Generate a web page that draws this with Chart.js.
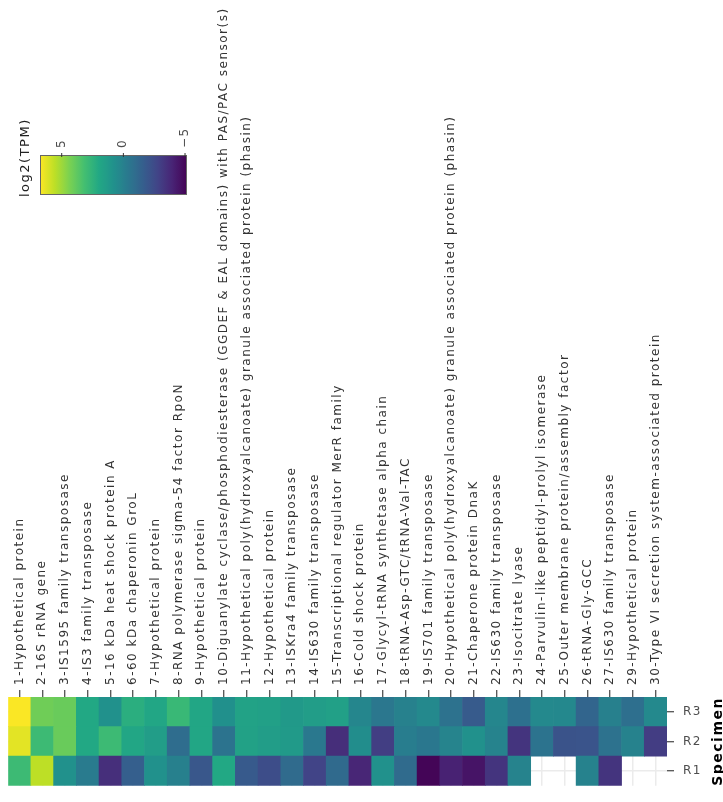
<!DOCTYPE html>
<html><head><meta charset="utf-8">
<script src="https://cdn.jsdelivr.net/npm/chart.js@4/dist/chart.umd.min.js"></script>
<style>html,body{margin:0;padding:0;background:#fff;}canvas{display:block;}</style>
</head><body>
<canvas id="c" width="723" height="802"></canvas>
<script>
const genes = [
  "1-Hypothetical protein",
  "2-16S rRNA gene",
  "3-IS1595 family transposase",
  "4-IS3 family transposase",
  "5-16 kDa heat shock protein A",
  "6-60 kDa chaperonin GroL",
  "7-Hypothetical protein",
  "8-RNA polymerase sigma-54 factor RpoN",
  "9-Hypothetical protein",
  "10-Diguanylate cyclase/phosphodiesterase (GGDEF & EAL domains) with PAS/PAC sensor(s)",
  "11-Hypothetical poly(hydroxyalcanoate) granule associated protein (phasin)",
  "12-Hypothetical protein",
  "13-ISKra4 family transposase",
  "14-IS630 family transposase",
  "15-Transcriptional regulator MerR family",
  "16-Cold shock protein",
  "17-Glycyl-tRNA synthetase alpha chain",
  "18-tRNA-Asp-GTC/tRNA-Val-TAC",
  "19-IS701 family transposase",
  "20-Hypothetical poly(hydroxyalcanoate) granule associated protein (phasin)",
  "21-Chaperone protein DnaK",
  "22-IS630 family transposase",
  "23-Isocitrate lyase",
  "24-Parvulin-like peptidyl-prolyl isomerase",
  "25-Outer membrane protein/assembly factor",
  "26-tRNA-Gly-GCC",
  "27-IS630 family transposase",
  "29-Hypothetical protein",
  "30-Type VI secretion system-associated protein"
];
const specimens = ["R1", "R2", "R3"];
const r3 = [6.7, 4.14, 4.0, 2.0, 0.8, 2.3, 1.87, 2.8, 1.9, 0.74, 1.7, 1.57, 1.2, 1.4, 1.57, 0.26, -0.45, 0.03, 0.44, -0.69, -1.76, 0.26, -0.75, 0.44, 0.38, -1.29, -0.03, -0.81, 0.4];
const r2 = [6.28, 2.95, 4.0, 2.0, 2.95, 1.87, 1.4, -0.93, 1.87, -0.63, 1.63, 1.4, 1.25, -0.39, -3.61, 0.62, -3.01, -0.15, -0.42, 0.2, 0.8, 0.14, -3.37, -0.63, -2.12, -2.06, -0.69, 0.08, -3.04];
const r1 = [2.95, 5.57, 0.8, -0.27, -3.55, -1.58, 0.8, -0.03, -1.94, 1.99, -1.82, -2.36, -1.0, -2.78, -1.05, -3.91, 0.8, -0.99, -5.04, -4.03, -4.5, -3.37, 0.14, null, null, 0.08, -3.37, null, null];
const legendTicks = [5, 0, -5];
const legendTitle = "log2(TPM)";
const axisTitle = "Specimen";
const scaleMin = -5.16, scaleMax = 6.76;

const viridisStops = [[68,1,84],[72,36,117],[65,68,135],[53,95,141],[42,120,142],[33,145,140],[34,168,132],[68,191,112],[122,209,81],[189,223,38],[253,231,37]];
function viridis(t) {
  t = Math.max(0, Math.min(1, t));
  const p = t * 10, i = Math.min(9, Math.floor(p)), f = p - i;
  const a = viridisStops[i], b = viridisStops[i + 1];
  return "rgb(" + [0,1,2].map(j => Math.round(a[j] + (b[j] - a[j]) * f)).join(",") + ")";
}
function colorOf(v) { return viridis((v - scaleMin) / (scaleMax - scaleMin)); }

const rows = [r1, r2, r3];
const datasets = rows.map((vals, k) => ({
  label: specimens[k],
  data: vals.map(v => v === null ? null : [k, k + 1]),
  backgroundColor: c => { const v = vals[c.dataIndex]; return v == null ? "rgba(0,0,0,0)" : colorOf(v); },
  borderWidth: 0,
  grouped: false,
  barPercentage: 1,
  categoryPercentage: 1
}));

const labelSize = 12;
Chart.defaults.font.family = "'DejaVu Sans', Verdana, sans-serif";
Chart.defaults.font.size = labelSize;
Chart.defaults.color = "#4d4d4d";

const spacingPlugin = {
  id: "spacing",
  beforeDraw(chart) { chart.ctx.letterSpacing = "1.5px"; }
};

const overlayPlugin = {
  id: "overlay",
  afterDraw(chart) {
    const ctx = chart.ctx;
    ctx.save();
    ctx.letterSpacing = "1.5px";
    const bx = 40, by = 155, bw = 147, bh = 40;
    const g = ctx.createLinearGradient(bx, 0, bx + bw, 0);
    for (let i = 0; i <= 40; i++) g.addColorStop(i / 40, viridis(1 - i / 40));
    ctx.fillStyle = g;
    ctx.fillRect(bx, by, bw, bh);
    ctx.strokeStyle = "#666";
    ctx.lineWidth = 1;
    ctx.strokeRect(bx + 0.5, by + 0.5, bw - 1, bh - 1);
    ctx.fillStyle = "#4d4d4d";
    ctx.strokeStyle = "#333";
    ctx.font = "12px 'DejaVu Sans'";
    legendTicks.forEach(v => {
      const x = bx + (scaleMax - v) / (scaleMax - scaleMin) * bw;
      ctx.beginPath(); ctx.moveTo(x, by - 2); ctx.lineTo(x, by + 2); ctx.stroke();
      ctx.save();
      ctx.translate(x, 148);
      ctx.rotate(-Math.PI / 2);
      ctx.textAlign = "left"; ctx.textBaseline = "middle";
      ctx.fillText(v < 0 ? "\u2212" + Math.abs(v) : String(v), 0, 0);
      ctx.restore();
    });
    ctx.save();
    ctx.translate(26, 197);
    ctx.rotate(-Math.PI / 2);
    ctx.textAlign = "left"; ctx.textBaseline = "middle";
    ctx.fillStyle = "#222";
    ctx.font = "13px 'DejaVu Sans'";
    ctx.fillText(legendTitle, 0, 0);
    ctx.restore();
    const ca = chart.chartArea;
    ctx.save();
    ctx.translate(722, (ca.top + ca.bottom) / 2);
    ctx.rotate(-Math.PI / 2);
    ctx.textAlign = "center"; ctx.textBaseline = "alphabetic";
    ctx.fillStyle = "#000";
    ctx.font = "bold 14px 'DejaVu Sans'";
    ctx.fillText(axisTitle, 0, 0);
    ctx.restore();
    ctx.restore();
  }
};

new Chart(document.getElementById("c"), {
  type: "bar",
  data: { labels: genes, datasets },
  options: {
    responsive: false,
    animation: false,
    layout: { padding: { left: 8, right: 0, top: 0, bottom: 6 } },
    plugins: { legend: { display: false }, tooltip: { enabled: false } },
    scales: {
      x: {
        type: "category",
        position: "top",
        offset: true,
        grid: { offset: false, color: "#ebebeb", lineWidth: 1.5, tickColor: "#333", tickLength: 7, tickWidth: 1.1 },
        border: { display: false },
        ticks: { autoSkip: false, minRotation: 90, maxRotation: 90, padding: 5, labelOffset: labelSize * 1.2, color: "#333", font: { size: labelSize } },
        afterFit: s => { s.height = 697; }
      },
      y: {
        type: "linear",
        position: "right",
        min: 0, max: 3,
        afterBuildTicks: s => { s.ticks = [0.5, 1.5, 2.5].map(v => ({ value: v })); },
        grid: { color: "#ebebeb", lineWidth: 1.5, tickColor: "#333", tickLength: 7, tickWidth: 1.1 },
        border: { display: false },
        ticks: { callback: v => specimens[Math.floor(v)], padding: 9, color: "#4d4d4d", font: { size: 12 } },
        afterFit: s => { s.width = 56; }
      }
    }
  },
  plugins: [spacingPlugin, overlayPlugin]
});
</script>
</body></html>
